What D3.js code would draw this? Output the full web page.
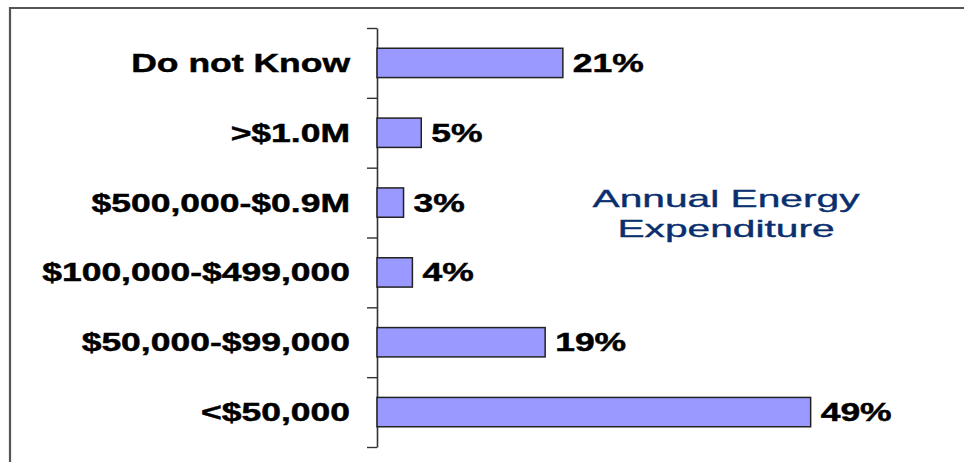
<!DOCTYPE html>
<html>
<head>
<meta charset="utf-8">
<script src="https://cdn.jsdelivr.net/npm/d3@7"></script>
<style>
  html, body { margin: 0; padding: 0; background: #fff; }
  svg { display: block; }
  text { font-family: "Liberation Sans", Arial, sans-serif; }
</style>
</head>
<body>
<svg id="chart" width="964" height="462"></svg>
<script>
const categories = ["Do not Know", ">$1.0M", "$500,000-$0.9M", "$100,000-$499,000", "$50,000-$99,000", "<$50,000"];
const values = [21, 5, 3, 4, 19, 49];
const valueLabels = ["21%", "5%", "3%", "4%", "19%", "49%"];
const titleLines = ["Annual Energy", "Expenditure"];

(function () {
const svg = d3.select("#chart");
const W = 964, H = 462;
const axLeft = 377, axTop = 28, axBottom = 447;

// frame
svg.append("path")
  .attr("d", `M10,${H} L10,8 L${W},8`)
  .attr("fill", "none").attr("stroke", "#555").attr("stroke-width", 2.2);

const y = d3.scaleBand().domain(categories).range([axTop, axBottom])
  .paddingInner(0.58).paddingOuter(0.29);
const x = d3.scaleLinear().domain([0, 50]).range([axLeft, 819.5]);

// axis with ticks at band boundaries
const yb = d3.scaleLinear().domain([0, categories.length]).range([axTop, axBottom]);
const axis = svg.append("g").attr("transform", `translate(${axLeft},0)`)
  .call(d3.axisLeft(yb).tickValues(d3.range(0, categories.length + 1)).tickFormat("").tickSize(10).tickSizeOuter(0));
axis.select(".domain").attr("stroke", "#333").attr("stroke-width", 1.6);
axis.selectAll(".tick line").attr("stroke", "#333").attr("stroke-width", 1.4);

const data = categories.map((c, i) => ({c, v: values[i], l: valueLabels[i]}));

svg.append("g").selectAll("rect").data(data).join("rect")
  .attr("x", x(0))
  .attr("y", d => y(d.c))
  .attr("width", d => x(d.v) - x(0))
  .attr("height", y.bandwidth())
  .attr("fill", "#9999FF")
  .attr("stroke", "#222")
  .attr("stroke-width", 1.5);

const sx = 1.42;
// category labels
svg.append("g").selectAll("g").data(data).join("g")
  .attr("transform", d => `translate(350,${y(d.c) + y.bandwidth() / 2 + 9}) scale(${sx},1)`)
  .append("text")
  .attr("text-anchor", "end")
  .attr("font-size", 25).attr("font-weight", "bold").attr("fill", "#000")
  .attr("stroke", "#000").attr("stroke-width", 0.45)
  .text(d => d.c);

// value labels
svg.append("g").selectAll("g").data(data).join("g")
  .attr("transform", d => `translate(${x(d.v) + 10},${y(d.c) + y.bandwidth() / 2 + 9}) scale(${sx},1)`)
  .append("text")
  .attr("text-anchor", "start")
  .attr("font-size", 25).attr("font-weight", "bold").attr("fill", "#000")
  .attr("stroke", "#000").attr("stroke-width", 0.45)
  .text(d => d.l);

// title
svg.append("g").selectAll("g").data(titleLines).join("g")
  .attr("transform", (d, i) => `translate(726,${207 + i * 30}) scale(1.77,1)`)
  .append("text")
  .attr("text-anchor", "middle")
  .attr("font-size", 23).attr("fill", "#0a2f6e")
  .attr("stroke", "#0a2f6e").attr("stroke-width", 0.35)
  .text(d => d);
})();
</script>
</body>
</html>
